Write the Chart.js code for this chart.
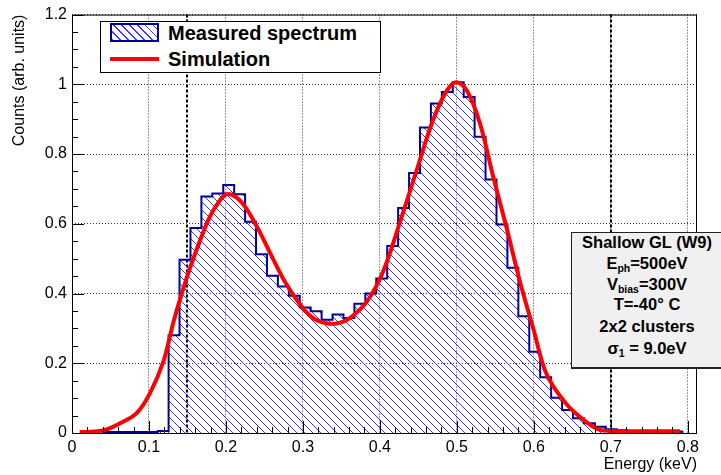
<!DOCTYPE html>
<html>
<head>
<meta charset="utf-8">
<script src="https://cdn.jsdelivr.net/npm/chart.js@4.4.1/dist/chart.umd.min.js"></script>
<style>
  html, body { margin: 0; padding: 0; background: #fff; }
  #wrap { position: relative; width: 721px; height: 475px; overflow: hidden;
          font-family: "Liberation Sans", Arial, Helvetica, sans-serif; }
  #legend { position: absolute; left: 100px; top: 21px; width: 279px; height: 50px;
            border: 1px solid #000; background: #fff; }
  .lg-hatch { position: absolute; left: 9px; top: 1px; width: 45px; height: 15px;
              border: 2px solid #000096;
              background: repeating-linear-gradient(45deg, #3535ff 0 1px, transparent 1px 5.6px); }
  .lg-line { position: absolute; left: 9px; top: 35px; width: 49px; height: 4px; background: #ff0000; }
  .lg-text { position: absolute; left: 67px; font-weight: bold; font-size: 20px; line-height: 20px; color: #000; }
  #info { position: absolute; left: 571px; top: 232px; width: 160px; height: 134px;
          background: #f0f0f0; border: 1px solid #222; border-bottom-width: 2px; }
  #info div { position: absolute; left: 0; width: 150px; text-align: center;
              font-weight: bold; font-size: 16.5px; line-height: 18px; color: #000; white-space: nowrap; }
  #info sub { font-size: 10.5px; vertical-align: -3px; line-height: 0; }
</style>
</head>
<body>
<div id="wrap">
  <canvas id="chart" width="721" height="475"></canvas>
  <div id="legend">
    <div class="lg-hatch"></div>
    <div class="lg-text" style="top:1px">Measured spectrum</div>
    <div class="lg-line"></div>
    <div class="lg-text" style="top:27px">Simulation</div>
  </div>
  <div id="info">
    <div style="top:0px">Shallow GL (W9)</div>
    <div style="top:21px">E<sub>ph</sub>=500eV</div>
    <div style="top:42px">V<sub>bias</sub>=300V</div>
    <div style="top:62px">T=-40° C</div>
    <div style="top:84px">2x2 clusters</div>
    <div style="top:106px">σ<sub>1</sub> = 9.0eV</div>
  </div>
</div>
<script>
// measured spectrum: bin edges start at binStart, fixed bin width (keV)
const binStart = 0.0403;
const binWidth = 0.0142;
const measured = [
  0.003, 0.003, 0.003, 0.003, 0.003, 0.006,
  0.28, 0.497, 0.588, 0.678, 0.687, 0.711, 0.685, 0.606, 0.513, 0.451,
  0.42, 0.394, 0.36, 0.349, 0.325, 0.34, 0.33, 0.371, 0.40, 0.443,
  0.536, 0.645, 0.746, 0.876, 0.945, 0.978, 1.006, 0.964, 0.85, 0.727,
  0.598, 0.474, 0.335, 0.233, 0.16, 0.101, 0.066, 0.042, 0.028, 0.018,
  0.011, 0.008, 0.006, 0.006, 0.005, 0.005, 0.004
];

// simulation curve
const simEnergy = [0.01, 0.03, 0.045, 0.062, 0.084, 0.101, 0.119, 0.132, 0.149, 0.166,
  0.179, 0.192, 0.201, 0.214, 0.227, 0.244, 0.261, 0.279, 0.300, 0.315, 0.33, 0.345,
  0.36, 0.383, 0.404, 0.426, 0.448, 0.469, 0.487, 0.4996, 0.513, 0.530, 0.547, 0.565,
  0.582, 0.599, 0.6165, 0.642, 0.668, 0.686, 0.72, 0.76, 0.79];
const simCounts = [0.003, 0.004, 0.010, 0.027, 0.057, 0.113, 0.207, 0.32, 0.445, 0.55,
  0.62, 0.667, 0.685, 0.675, 0.642, 0.576, 0.5, 0.425, 0.358, 0.327, 0.315, 0.315,
  0.328, 0.377, 0.462, 0.604, 0.755, 0.897, 0.982, 1.006, 0.982, 0.888, 0.737, 0.585,
  0.434, 0.302, 0.169, 0.084, 0.032, 0.009, 0.005, 0.005, 0.005];

const cutLines = [0.15, 0.7];
const xTicks = [0, 0.1, 0.2, 0.3, 0.4, 0.5, 0.6, 0.7, 0.8];
const yTicks = [0, 0.2, 0.4, 0.6, 0.8, 1, 1.2];

Chart.defaults.font.family = '"Liberation Sans", Arial, Helvetica, sans-serif';
Chart.defaults.color = '#000';

// hatch pattern like ROOT fill style 3004/3005
function hatch() {
  const c = document.createElement('canvas');
  c.width = 8; c.height = 8;
  const g = c.getContext('2d');
  g.strokeStyle = '#3535ff';
  g.lineWidth = 1;
  g.beginPath();
  g.moveTo(-1, -1); g.lineTo(9, 9);
  g.moveTo(-1, 7); g.lineTo(1, 9);
  g.moveTo(7, -1); g.lineTo(9, 1);
  g.stroke();
  return g.createPattern(c, 'repeat');
}

const histPoints = [{ x: binStart, y: 0 }];
measured.forEach((v, i) => histPoints.push({ x: binStart + i * binWidth, y: v }));
histPoints.push({ x: binStart + measured.length * binWidth, y: 0 });

const simPoints = simEnergy.map((e, i) => ({ x: e, y: simCounts[i] }));

const rootFrame = {
  id: 'rootFrame',
  beforeDatasetsDraw(chart) {
    const { ctx, chartArea: a, scales: { x } } = chart;
    ctx.save();
    ctx.strokeStyle = '#000';
    ctx.lineWidth = 2;
    ctx.setLineDash([3, 2]);
    cutLines.forEach(v => {
      const px = Math.round(x.getPixelForValue(v));
      ctx.beginPath();
      ctx.moveTo(px, a.top);
      ctx.lineTo(px, a.bottom);
      ctx.stroke();
    });
    ctx.restore();
  },
  afterDraw(chart) {
    const { ctx, chartArea: a, scales: { x, y } } = chart;
    ctx.save();
    ctx.strokeStyle = '#000';
    ctx.lineWidth = 1;
    ctx.beginPath();
    // minor/major ticks on x
    for (let k = 0; k <= 40; k++) {
      const px = Math.round(x.getPixelForValue(k * 0.02)) + 0.5;
      const len = k % 5 === 0 ? 12 : 6;
      ctx.moveTo(px, a.bottom);
      ctx.lineTo(px, a.bottom - len);
    }
    // ticks on y
    for (let k = 0; k <= 24; k++) {
      const py = Math.round(y.getPixelForValue(k * 0.05)) + 0.5;
      const len = k % 4 === 0 ? 12 : 6;
      ctx.moveTo(a.left, py);
      ctx.lineTo(a.left + len, py);
    }
    ctx.stroke();
    ctx.strokeRect(a.left + 0.5, a.top + 0.5, a.right - a.left - 1, a.bottom - a.top);
    ctx.restore();
  }
};

const canvas = document.getElementById('chart');
new Chart(canvas, {
  type: 'line',
  data: {
    datasets: [
      {
        label: 'Simulation',
        data: simPoints,
        borderColor: '#ff0000',
        borderWidth: 4,
        pointRadius: 0,
        tension: 0.35,
        fill: false,
        clip: 6
      },
      {
        label: 'Measured spectrum',
        data: histPoints,
        borderColor: '#000096',
        borderWidth: 2,
        backgroundColor: hatch(),
        pointRadius: 0,
        stepped: true,
        fill: 'origin'
      }
    ]
  },
  options: {
    responsive: false,
    animation: false,
    devicePixelRatio: 1,
    layout: { padding: { top: 10, right: 24, left: 0, bottom: 0 } },
    plugins: { legend: { display: false }, tooltip: { enabled: false } },
    scales: {
      x: {
        type: 'linear',
        min: 0,
        max: 0.812,
        afterBuildTicks: s => { s.ticks = xTicks.map(v => ({ value: v })); },
        ticks: {
          autoSkip: false, maxRotation: 0, padding: 5,
          font: { size: 16 },
          callback: v => String(+v.toFixed(2))
        },
        grid: { color: '#333', drawTicks: false, lineWidth: 1 },
        border: { display: false, dash: [1, 2] },
        title: { display: true, text: 'Energy (keV)', align: 'end', font: { size: 16 },
                 padding: { top: 0, bottom: 1 } },
        afterFit: s => { s.height = 42; }
      },
      y: {
        type: 'linear',
        min: 0,
        max: 1.2,
        afterBuildTicks: s => { s.ticks = yTicks.map(v => ({ value: v })); },
        ticks: {
          padding: 5,
          font: { size: 16 },
          callback: v => String(+v.toFixed(2))
        },
        grid: { color: '#333', drawTicks: false, lineWidth: 1 },
        border: { display: false, dash: [1, 2] },
        title: { display: true, text: 'Counts (arb. units)', align: 'end', font: { size: 16 },
                 padding: { top: 10, bottom: 0 } },
        afterFit: s => { s.width = 72; }
      }
    }
  },
  plugins: [rootFrame]
});
</script>
</body>
</html>
